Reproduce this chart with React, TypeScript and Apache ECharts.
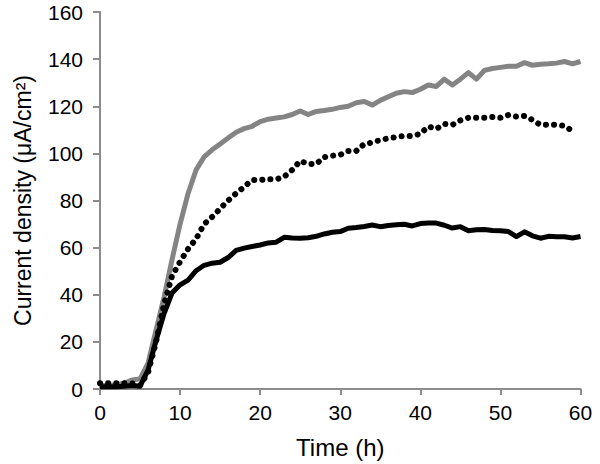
import React, { useEffect, useRef } from "react";
import * as echarts from "echarts";

const hours = [0,1,2,3,4,5,6,7,8,9,10,11,12,13,14,15,16,17,18,19,20,21,22,23,24,25,26,27,28,29,30,31,32,33,34,35,36,37,38,39,40,41,42,43,44,45,46,47,48,49,50,51,52,53,54,55,56,57,58,59,60];

const graySeries = [1.5,1.5,1.8,2.5,3.8,4.3,11,25,39,55,70,83,93,98.5,101.5,104,106.5,109,110.5,111.5,113.5,114.5,115,115.5,116.5,118,116.5,117.8,118.2,118.7,119.5,120,121.5,122,120.5,122.5,124,125.5,126.2,125.8,127.2,129,128.4,131.5,129,131.5,134.3,131.5,135.2,136,136.5,137,137,138.5,137.4,137.8,138,138.3,139,138,139];

const dottedSeries = [2.4,2.4,2.4,2.4,2.4,1.5,7,20,36,48,54,59.5,63.7,70,73,76.5,80,83,85.8,88.7,88.7,89,89,90.1,93,96.8,95.5,95.5,98.4,99,99.4,101,101,104,104.6,105.7,106.4,106.9,107.4,107.4,108.3,111.4,110.4,112.5,112.1,114,115.1,115.1,115.1,115.4,115.1,116.3,115.6,115.9,114.2,112.1,112.1,112.1,111.7,109.5];

const blackSeries = [1,1,1,1.2,1.5,1.2,8,20.5,32,40.8,44.2,46.2,50.2,52.5,53.4,53.8,55.8,58.8,59.8,60.5,61.1,62,62.3,64.4,64.1,64,64.2,64.8,65.8,66.5,66.8,68.2,68.5,69,69.6,68.9,69.4,69.7,69.9,69.2,70.2,70.4,70.4,69.5,68.3,68.9,67.2,67.6,67.7,67.3,67.2,66.8,64.7,66.7,65,64,64.8,64.6,64.6,64.1,64.7];

const xTitle = "Time (h)";
const yTitle = "Current density (μA/cm²)";

function pairs(values: number[]) {
  return values.map((v, i) => [hours[i], v]);
}

export default function App() {
  const ref = useRef<HTMLDivElement>(null);
  useEffect(() => {
    if (!ref.current) return;
    const chart = echarts.init(ref.current, null, { renderer: "svg" });
    const axisColor = "#8c8c8c";
    const font = "'Liberation Sans', Arial, sans-serif";
    chart.setOption({
      animation: false,
      backgroundColor: "#ffffff",
      grid: { left: 100, right: 19.5, top: 12, bottom: 75 },
      xAxis: {
        type: "value",
        min: 0,
        max: 60,
        interval: 10,
        name: xTitle,
        nameLocation: "middle",
        nameGap: 46,
        nameTextStyle: { fontSize: 24, color: "#000", fontFamily: font },
        axisLine: { lineStyle: { color: axisColor, width: 2 } },
        axisTick: { show: true, length: 6, lineStyle: { color: axisColor, width: 2 } },
        axisLabel: { fontSize: 21, color: "#000", fontFamily: font, margin: 13 },
        splitLine: { show: false },
      },
      yAxis: {
        type: "value",
        min: 0,
        max: 160,
        interval: 20,
        name: yTitle,
        nameLocation: "middle",
        nameGap: 66,
        nameTextStyle: { fontSize: 23, color: "#000", fontFamily: font },
        axisLine: { show: true, lineStyle: { color: axisColor, width: 2 } },
        axisTick: { show: true, length: 7, lineStyle: { color: axisColor, width: 2 } },
        axisLabel: { fontSize: 21, color: "#000", fontFamily: font, margin: 17 },
        splitLine: { show: false },
      },
      series: [
        {
          type: "line",
          data: pairs(graySeries),
          symbol: "none",
          lineStyle: { color: "#848484", width: 5, join: "round" },
        },
        {
          type: "line",
          data: pairs(blackSeries),
          symbol: "none",
          lineStyle: { color: "#000000", width: 5, join: "round" },
        },
        {
          type: "line",
          data: pairs(dottedSeries),
          symbol: "none",
          lineStyle: { color: "#000000", width: 6, type: [0.1, 8], cap: "round" },
        },
      ],
    });
    return () => chart.dispose();
  }, []);
  return <div ref={ref} style={{ width: 600, height: 464, position: "absolute", left: 0, top: 0 }} />;
}
